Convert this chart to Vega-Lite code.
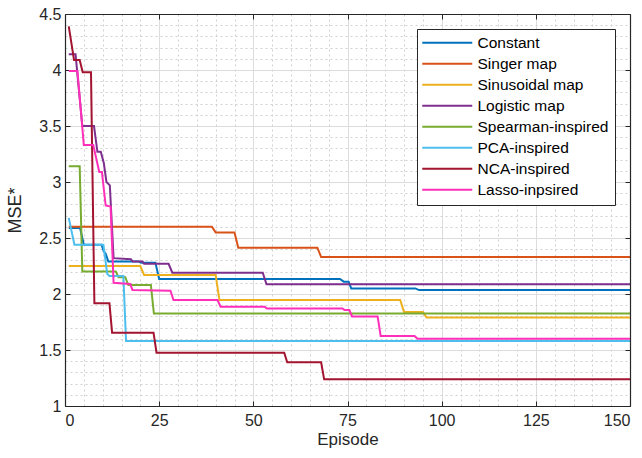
{
  "$schema": "https://vega.github.io/schema/vega-lite/v6.json",
  "width": 565,
  "height": 392,
  "autosize": {"type": "none"},
  "padding": {"left": 65, "top": 14, "right": 12, "bottom": 52},
  "background": "white",
  "config": {
    "font": "Liberation Sans",
    "view": {"stroke": null},
    "axis": {"labelFont": "Liberation Sans", "titleFont": "Liberation Sans", "labelColor": "#262626", "titleColor": "#262626", "titleFontWeight": "normal"}
  },
  "data": {"values": [
    {"s": "Constant", "ep": 1, "v": 2.59}, {"s": "Constant", "ep": 4, "v": 2.59}, {"s": "Constant", "ep": 5, "v": 2.44}, {"s": "Constant", "ep": 9.7, "v": 2.44}, {"s": "Constant", "ep": 10.3, "v": 2.38}, {"s": "Constant", "ep": 10.8, "v": 2.36}, {"s": "Constant", "ep": 11.5, "v": 2.29}, {"s": "Constant", "ep": 19.7, "v": 2.29}, {"s": "Constant", "ep": 20.2, "v": 2.28}, {"s": "Constant", "ep": 24, "v": 2.28}, {"s": "Constant", "ep": 25, "v": 2.134}, {"s": "Constant", "ep": 73, "v": 2.134}, {"s": "Constant", "ep": 74, "v": 2.11}, {"s": "Constant", "ep": 75.3, "v": 2.11}, {"s": "Constant", "ep": 76, "v": 2.05}, {"s": "Constant", "ep": 93, "v": 2.05}, {"s": "Constant", "ep": 94, "v": 2.035}, {"s": "Constant", "ep": 150, "v": 2.035},
    {"s": "Singer map", "ep": 1, "v": 2.6}, {"s": "Singer map", "ep": 39, "v": 2.6}, {"s": "Singer map", "ep": 40, "v": 2.55}, {"s": "Singer map", "ep": 45, "v": 2.55}, {"s": "Singer map", "ep": 46, "v": 2.414}, {"s": "Singer map", "ep": 67, "v": 2.414}, {"s": "Singer map", "ep": 68, "v": 2.33}, {"s": "Singer map", "ep": 150, "v": 2.33},
    {"s": "Sinusoidal map", "ep": 1, "v": 2.25}, {"s": "Sinusoidal map", "ep": 20, "v": 2.25}, {"s": "Sinusoidal map", "ep": 21, "v": 2.17}, {"s": "Sinusoidal map", "ep": 40, "v": 2.17}, {"s": "Sinusoidal map", "ep": 41, "v": 1.946}, {"s": "Sinusoidal map", "ep": 89, "v": 1.946}, {"s": "Sinusoidal map", "ep": 90, "v": 1.84}, {"s": "Sinusoidal map", "ep": 95, "v": 1.84}, {"s": "Sinusoidal map", "ep": 96, "v": 1.79}, {"s": "Sinusoidal map", "ep": 150, "v": 1.79},
    {"s": "Logistic map", "ep": 1, "v": 4.14}, {"s": "Logistic map", "ep": 2.8, "v": 4.14}, {"s": "Logistic map", "ep": 4.6, "v": 3.5}, {"s": "Logistic map", "ep": 7.7, "v": 3.5}, {"s": "Logistic map", "ep": 8.6, "v": 3.27}, {"s": "Logistic map", "ep": 9.5, "v": 3.27}, {"s": "Logistic map", "ep": 10.3, "v": 3.17}, {"s": "Logistic map", "ep": 11, "v": 3.0}, {"s": "Logistic map", "ep": 11.9, "v": 2.97}, {"s": "Logistic map", "ep": 12.9, "v": 2.32}, {"s": "Logistic map", "ep": 17.5, "v": 2.31}, {"s": "Logistic map", "ep": 18, "v": 2.29}, {"s": "Logistic map", "ep": 20.6, "v": 2.29}, {"s": "Logistic map", "ep": 21, "v": 2.27}, {"s": "Logistic map", "ep": 27.5, "v": 2.27}, {"s": "Logistic map", "ep": 28.5, "v": 2.19}, {"s": "Logistic map", "ep": 52.5, "v": 2.19}, {"s": "Logistic map", "ep": 53.5, "v": 2.087}, {"s": "Logistic map", "ep": 150, "v": 2.087},
    {"s": "Spearman-inspired", "ep": 1, "v": 3.14}, {"s": "Spearman-inspired", "ep": 3.9, "v": 3.14}, {"s": "Spearman-inspired", "ep": 4.6, "v": 2.2}, {"s": "Spearman-inspired", "ep": 13.5, "v": 2.2}, {"s": "Spearman-inspired", "ep": 14.2, "v": 2.15}, {"s": "Spearman-inspired", "ep": 16, "v": 2.15}, {"s": "Spearman-inspired", "ep": 16.8, "v": 2.08}, {"s": "Spearman-inspired", "ep": 22.8, "v": 2.08}, {"s": "Spearman-inspired", "ep": 23.6, "v": 1.826}, {"s": "Spearman-inspired", "ep": 150, "v": 1.826},
    {"s": "PCA-inspired", "ep": 1, "v": 2.68}, {"s": "PCA-inspired", "ep": 2.5, "v": 2.44}, {"s": "PCA-inspired", "ep": 10.2, "v": 2.44}, {"s": "PCA-inspired", "ep": 11.2, "v": 2.18}, {"s": "PCA-inspired", "ep": 11.8, "v": 2.16}, {"s": "PCA-inspired", "ep": 15.5, "v": 2.16}, {"s": "PCA-inspired", "ep": 16.2, "v": 1.58}, {"s": "PCA-inspired", "ep": 150, "v": 1.58},
    {"s": "NCA-inspired", "ep": 1, "v": 4.39}, {"s": "NCA-inspired", "ep": 2.4, "v": 4.09}, {"s": "NCA-inspired", "ep": 3.9, "v": 4.09}, {"s": "NCA-inspired", "ep": 4.7, "v": 3.98}, {"s": "NCA-inspired", "ep": 6.9, "v": 3.98}, {"s": "NCA-inspired", "ep": 7.8, "v": 1.917}, {"s": "NCA-inspired", "ep": 11.8, "v": 1.917}, {"s": "NCA-inspired", "ep": 12.5, "v": 1.655}, {"s": "NCA-inspired", "ep": 23.5, "v": 1.655}, {"s": "NCA-inspired", "ep": 24.3, "v": 1.476}, {"s": "NCA-inspired", "ep": 58.2, "v": 1.476}, {"s": "NCA-inspired", "ep": 59, "v": 1.39}, {"s": "NCA-inspired", "ep": 68, "v": 1.39}, {"s": "NCA-inspired", "ep": 68.8, "v": 1.238}, {"s": "NCA-inspired", "ep": 150, "v": 1.238},
    {"s": "Lasso-inpsired", "ep": 1, "v": 3.99}, {"s": "Lasso-inpsired", "ep": 3.3, "v": 3.99}, {"s": "Lasso-inpsired", "ep": 5, "v": 3.33}, {"s": "Lasso-inpsired", "ep": 7.5, "v": 3.33}, {"s": "Lasso-inpsired", "ep": 9.1, "v": 3.09}, {"s": "Lasso-inpsired", "ep": 9.8, "v": 3.09}, {"s": "Lasso-inpsired", "ep": 10.8, "v": 2.79}, {"s": "Lasso-inpsired", "ep": 12.1, "v": 2.78}, {"s": "Lasso-inpsired", "ep": 12.9, "v": 2.1}, {"s": "Lasso-inpsired", "ep": 17.3, "v": 2.09}, {"s": "Lasso-inpsired", "ep": 17.9, "v": 2.036}, {"s": "Lasso-inpsired", "ep": 28, "v": 2.03}, {"s": "Lasso-inpsired", "ep": 28.8, "v": 1.946}, {"s": "Lasso-inpsired", "ep": 40.5, "v": 1.946}, {"s": "Lasso-inpsired", "ep": 41.3, "v": 1.886}, {"s": "Lasso-inpsired", "ep": 53, "v": 1.886}, {"s": "Lasso-inpsired", "ep": 53.6, "v": 1.87}, {"s": "Lasso-inpsired", "ep": 73.7, "v": 1.87}, {"s": "Lasso-inpsired", "ep": 74.2, "v": 1.857}, {"s": "Lasso-inpsired", "ep": 75.5, "v": 1.857}, {"s": "Lasso-inpsired", "ep": 76.2, "v": 1.8}, {"s": "Lasso-inpsired", "ep": 83, "v": 1.8}, {"s": "Lasso-inpsired", "ep": 83.8, "v": 1.625}, {"s": "Lasso-inpsired", "ep": 92.8, "v": 1.625}, {"s": "Lasso-inpsired", "ep": 93.6, "v": 1.6}, {"s": "Lasso-inpsired", "ep": 150, "v": 1.6}
  ]},
  "encoding": {
    "x": {"field": "ep", "type": "quantitative", "scale": {"domain": [0, 150], "nice": false, "zero": false}},
    "y": {"field": "v", "type": "quantitative", "scale": {"domain": [1, 4.5], "nice": false, "zero": false}}
  },
  "resolve": {"axis": {"x": "independent", "y": "independent"}},
  "layer": [
    {
      "mark": {"type": "line", "strokeOpacity": 0},
      "encoding": {
        "x": {"field": "ep", "type": "quantitative", "axis": {"orient": "bottom", "values": [5,10,15,20,30,35,40,45,55,60,65,70,80,85,90,95,105,110,115,120,130,135,140,145], "grid": true, "gridColor": "#d0d0d0", "gridDash": [2, 3], "gridWidth": 1, "labels": false, "ticks": false, "domain": false, "title": null}},
        "y": {"field": "v", "type": "quantitative", "axis": {"orient": "left", "values": [1.1,1.2,1.3,1.4,1.6,1.7,1.8,1.9,2.1,2.2,2.3,2.4,2.6,2.7,2.8,2.9,3.1,3.2,3.3,3.4,3.6,3.7,3.8,3.9,4.1,4.2,4.3,4.4], "grid": true, "gridColor": "#d0d0d0", "gridDash": [2, 3], "gridWidth": 1, "labels": false, "ticks": false, "domain": false, "title": null}},
        "detail": {"field": "s"}
      }
    },
    {
      "mark": {"type": "line", "strokeWidth": 2},
      "encoding": {
        "x": {"field": "ep", "type": "quantitative", "axis": {"orient": "bottom", "values": [0, 25, 50, 75, 100, 125, 150], "grid": true, "gridColor": "#dcdcdc", "gridWidth": 1, "domainColor": "#262626", "domainWidth": 1.2, "tickColor": "#262626", "tickSize": -5, "labelPadding": 11, "labelFontSize": 16, "title": "Episode", "titleFontSize": 17, "titlePadding": 3}},
        "y": {"field": "v", "type": "quantitative", "axis": {"orient": "left", "values": [1, 1.5, 2, 2.5, 3, 3.5, 4, 4.5], "format": "~g", "grid": true, "gridColor": "#dcdcdc", "gridWidth": 1, "domainColor": "#262626", "domainWidth": 1.2, "tickColor": "#262626", "tickSize": -5, "labelPadding": 9, "labelFontSize": 16, "title": "MSE*", "titleFontSize": 18, "titlePadding": 14}},
        "color": {
          "field": "s", "type": "nominal",
          "scale": {
            "domain": ["Constant", "Singer map", "Sinusoidal map", "Logistic map", "Spearman-inspired", "PCA-inspired", "NCA-inspired", "Lasso-inpsired"],
            "range": ["#0072BD", "#D95319", "#EDB120", "#7E2F8E", "#77AC30", "#4DBEEE", "#A2142F", "#FF2FB9"]
          },
          "legend": {
            "orient": "none", "legendX": 352, "legendY": 15, "title": null,
            "symbolType": "M-8.5,0H41.5", "symbolSize": 4, "symbolStrokeWidth": 2,
            "labelFontSize": 15.5, "labelColor": "#000000", "labelOffset": 39, "rowPadding": 4,
            "fillColor": "white", "strokeColor": "#262626", "padding": 6
          }
        }
      }
    },
    {
      "mark": {"type": "line", "strokeOpacity": 0},
      "encoding": {
        "x": {"field": "ep", "type": "quantitative", "axis": {"orient": "top", "values": [0, 25, 50, 75, 100, 125, 150], "grid": false, "labels": false, "domainColor": "#262626", "domainWidth": 1.2, "tickColor": "#262626", "tickSize": -5, "title": null, "zindex": 1}},
        "y": {"field": "v", "type": "quantitative", "axis": {"orient": "right", "values": [1, 1.5, 2, 2.5, 3, 3.5, 4, 4.5], "grid": false, "labels": false, "domainColor": "#262626", "domainWidth": 1.2, "tickColor": "#262626", "tickSize": -5, "title": null, "zindex": 1}},
        "detail": {"field": "s"}
      }
    }
  ]
}
